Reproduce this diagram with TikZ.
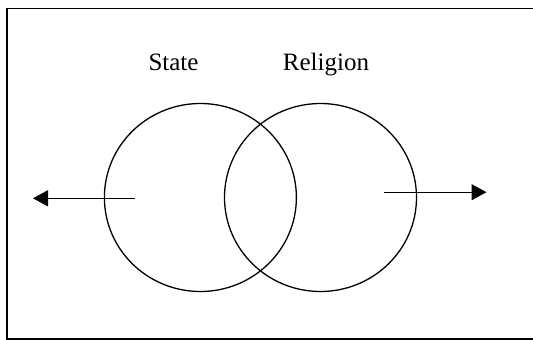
\documentclass[tikz,border=0pt]{standalone}
\usepackage{fontspec}
\setmainfont{Liberation Serif}
\usetikzlibrary{arrows.meta,shapes.geometric}
\begin{document}
\begin{tikzpicture}[x=1pt,y=-1pt,
  ring/.style={draw,ellipse,line width=1.3pt,minimum width=192pt,minimum height=188pt,inner sep=0pt},
  lbl/.style={font=\fontsize{25}{30}\selectfont,anchor=base,inner sep=0pt},
  arr/.style={line width=1.3pt,-{Triangle[length=15pt,width=16pt]}},
  frame/.style={line width=1.4pt}]
\useasboundingbox (0,0) rectangle (533,340);
\draw[frame] (7,8.3) rectangle (560,339);
\node[ring] (state) at (200.4,197.5) {};
\node[ring] (religion) at (320.5,197.5) {};
\node[lbl] (tstate) at (173.5,70) {State};
\node[lbl] (treligion) at (326,70.5) {Religion};
\coordinate (ls) at (135.3,198.3);
\coordinate (le) at (33,198.3);
\coordinate (rs) at (384,192.2);
\coordinate (re) at (486.5,192.2);
\draw[arr] (ls) -- (le);
\draw[arr] (rs) -- (re);
\end{tikzpicture}
\end{document}
